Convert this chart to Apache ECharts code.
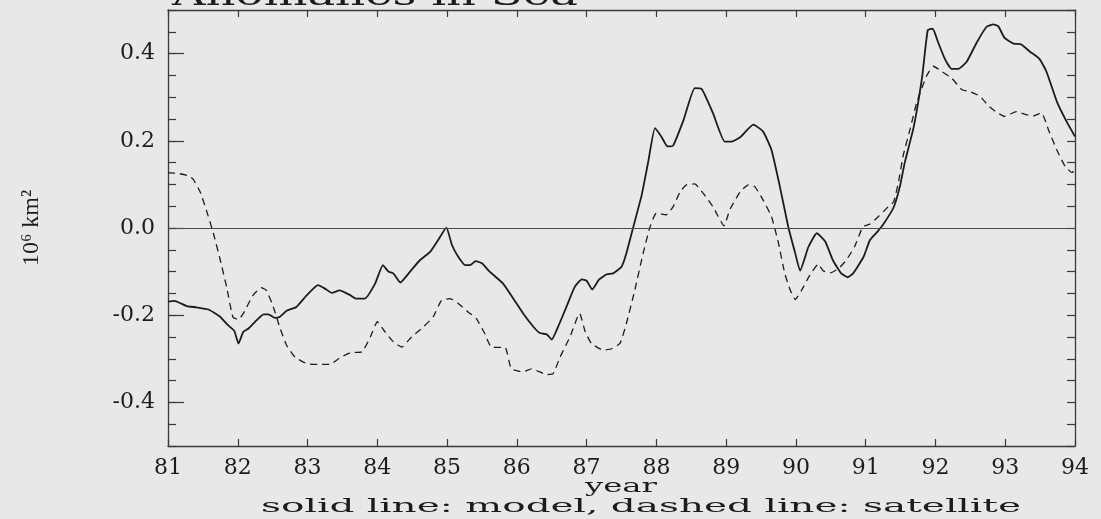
<!DOCTYPE html>
<html>
<head>
<meta charset="utf-8">
<script src="https://cdn.jsdelivr.net/npm/echarts@6/dist/echarts.min.js"></script>
<style>
html,body{margin:0;padding:0;background:#e8e8e8;}
#chart{width:1101px;height:519px;}
</style>
</head>
<body>
<div id="chart"></div>
<script>
// ---- data ----
const yearTicks = [81,82,83,84,85,86,87,88,89,90,91,92,93,94];
const yMajorLabels = [-0.4,-0.2,0.0,0.2,0.4];

const modelYears = [81.00,81.09,81.27,81.41,81.58,81.75,81.86,81.95,82.01,82.08,82.15,82.25,82.37,82.44,82.53,82.60,82.70,82.84,82.99,83.15,83.25,83.35,83.46,83.61,83.70,83.82,83.97,84.08,84.16,84.23,84.33,84.47,84.61,84.76,84.87,84.99,85.07,85.16,85.26,85.33,85.41,85.50,85.61,85.80,85.95,86.09,86.24,86.33,86.43,86.50,86.59,86.71,86.83,86.93,87.00,87.08,87.18,87.29,87.38,87.50,87.57,87.67,87.79,87.88,87.98,88.07,88.16,88.24,88.39,88.55,88.65,88.81,88.98,89.08,89.20,89.39,89.53,89.65,89.77,89.89,89.99,90.06,90.18,90.30,90.42,90.53,90.65,90.74,90.82,90.97,91.06,91.16,91.25,91.40,91.49,91.56,91.69,91.81,91.89,91.96,92.04,92.14,92.23,92.33,92.45,92.59,92.73,92.83,92.90,92.99,93.12,93.23,93.35,93.49,93.59,93.74,93.88,94.00];
const modelValues = [-0.169,-0.167,-0.179,-0.182,-0.187,-0.204,-0.223,-0.236,-0.265,-0.238,-0.231,-0.215,-0.198,-0.198,-0.206,-0.204,-0.190,-0.181,-0.154,-0.131,-0.139,-0.149,-0.143,-0.154,-0.162,-0.162,-0.127,-0.085,-0.100,-0.104,-0.125,-0.100,-0.074,-0.054,-0.028,0.001,-0.039,-0.066,-0.085,-0.085,-0.076,-0.081,-0.100,-0.127,-0.162,-0.196,-0.227,-0.241,-0.244,-0.256,-0.227,-0.181,-0.135,-0.118,-0.121,-0.141,-0.118,-0.106,-0.104,-0.089,-0.058,0.003,0.076,0.149,0.229,0.210,0.187,0.189,0.248,0.321,0.319,0.264,0.198,0.198,0.208,0.237,0.221,0.179,0.095,0.003,-0.058,-0.098,-0.043,-0.012,-0.031,-0.074,-0.104,-0.113,-0.104,-0.066,-0.028,-0.010,0.008,0.047,0.095,0.150,0.233,0.348,0.454,0.457,0.425,0.386,0.365,0.365,0.382,0.425,0.461,0.467,0.463,0.436,0.423,0.421,0.405,0.388,0.359,0.290,0.244,0.210];

const satYears = [81.00,81.15,81.29,81.36,81.46,81.55,81.65,81.75,81.84,81.93,82.01,82.08,82.22,82.34,82.41,82.51,82.60,82.70,82.82,82.99,83.15,83.32,83.46,83.61,83.78,83.90,84.00,84.09,84.23,84.35,84.49,84.66,84.80,84.92,85.04,85.16,85.28,85.42,85.54,85.64,85.83,85.92,86.09,86.21,86.43,86.52,86.62,86.76,86.90,86.98,87.07,87.24,87.36,87.48,87.57,87.69,87.81,87.91,88.00,88.14,88.24,88.34,88.43,88.55,88.67,88.81,88.97,89.05,89.20,89.32,89.41,89.53,89.65,89.75,89.84,89.92,89.99,90.08,90.20,90.32,90.39,90.49,90.61,90.72,90.84,90.96,91.06,91.18,91.30,91.40,91.47,91.54,91.64,91.73,91.87,91.97,92.09,92.23,92.38,92.49,92.64,92.76,92.88,92.99,93.16,93.30,93.40,93.52,93.62,93.74,93.86,93.96,94.00];
const satValues = [0.127,0.125,0.120,0.112,0.083,0.041,-0.012,-0.074,-0.135,-0.204,-0.210,-0.196,-0.154,-0.137,-0.143,-0.181,-0.227,-0.269,-0.296,-0.311,-0.313,-0.313,-0.298,-0.286,-0.284,-0.250,-0.215,-0.234,-0.261,-0.273,-0.250,-0.227,-0.204,-0.166,-0.162,-0.173,-0.190,-0.208,-0.242,-0.274,-0.274,-0.323,-0.330,-0.323,-0.336,-0.334,-0.296,-0.250,-0.196,-0.238,-0.265,-0.280,-0.277,-0.264,-0.219,-0.143,-0.058,0.003,0.034,0.030,0.049,0.083,0.099,0.101,0.080,0.049,0.005,0.041,0.083,0.099,0.095,0.064,0.026,-0.035,-0.104,-0.143,-0.164,-0.143,-0.108,-0.083,-0.098,-0.103,-0.093,-0.074,-0.043,0.003,0.009,0.026,0.045,0.060,0.105,0.168,0.229,0.287,0.348,0.371,0.359,0.344,0.317,0.313,0.302,0.280,0.265,0.256,0.267,0.260,0.257,0.264,0.225,0.179,0.141,0.127,0.137];

const titleText = 'Anomalies in Sea';
const xName = 'year';
const yName = '10\u2076 km\u00B2';
const noteText = 'solid line: model, dashed line: satellite';

// ---- chart ----
const ink = '#1c1c1c';
const axisInk = '#3a3a3a';
const chart = echarts.init(document.getElementById('chart'), null, {renderer: 'canvas'});

const pairs = (xs, ys) => xs.map((x, i) => [x, ys[i]]);
const axisLine = {show: true, onZero: false, lineStyle: {color: axisInk, width: 1.3}};

const option = {
  backgroundColor: '#e8e8e8',
  animation: false,
  grid: {left: 168, right: 26, top: 10, bottom: 73, show: false},
  xAxis: [
    {
      type: 'value', min: yearTicks[0], max: yearTicks[yearTicks.length - 1], interval: 1,
      position: 'bottom',
      axisLine: axisLine,
      axisTick: {show: true, inside: true, length: 7, lineStyle: {color: axisInk, width: 1.2}},
      axisLabel: {show: true, margin: 11, fontFamily: 'DejaVu Serif', fontSize: 22, color: ink,
        formatter: v => String(Math.round(v))},
      splitLine: {show: false}
    },
    {
      type: 'value', min: yearTicks[0], max: yearTicks[yearTicks.length - 1], interval: 1,
      position: 'top',
      axisLine: axisLine,
      axisTick: {show: true, inside: true, length: 7, lineStyle: {color: axisInk, width: 1.2}},
      axisLabel: {show: false},
      splitLine: {show: false}
    }
  ],
  yAxis: [
    {
      type: 'value', min: -0.5, max: 0.5, interval: 0.05, position: 'left',
      axisLine: axisLine,
      axisTick: {show: true, inside: true, length: 8, lineStyle: {color: axisInk, width: 1.2}},
      axisLabel: {show: false},
      splitLine: {show: false}
    },
    {
      type: 'value', min: -0.5, max: 0.5, interval: 0.1, position: 'left',
      axisLine: {show: false, onZero: false},
      axisTick: {show: true, inside: true, length: 16, customValues: yMajorLabels,
        lineStyle: {color: axisInk, width: 1.2}},
      axisLabel: {show: true, margin: 13, customValues: yMajorLabels,
        fontFamily: 'DejaVu Serif', fontSize: 22, color: ink,
        formatter: v => (Math.abs(v) < 1e-9 ? 0 : v).toFixed(1)},
      splitLine: {show: false},
      name: yName, nameLocation: 'middle', nameRotate: 90, nameGap: 124,
      nameTextStyle: {fontFamily: 'Liberation Serif', fontSize: 24, color: ink}
    },
    {
      type: 'value', min: -0.5, max: 0.5, interval: 0.05, position: 'right',
      axisLine: axisLine,
      axisTick: {show: true, inside: true, length: 8, lineStyle: {color: axisInk, width: 1.2}},
      axisLabel: {show: false},
      splitLine: {show: false}
    }
  ],
  series: [
    {
      name: 'model', type: 'line', xAxisIndex: 0, yAxisIndex: 0,
      data: pairs(modelYears, modelValues),
      symbol: 'none', smooth: 0.15,
      lineStyle: {color: ink, width: 1.8, type: 'solid'},
      markLine: {
        silent: true, symbol: 'none', animation: false,
        label: {show: false},
        lineStyle: {color: '#4a4a4a', width: 1, type: 'solid'},
        data: [{yAxis: 0}]
      },
      z: 3
    },
    {
      name: 'satellite', type: 'line', xAxisIndex: 0, yAxisIndex: 0,
      data: pairs(satYears, satValues),
      symbol: 'none', smooth: 0.15,
      lineStyle: {color: ink, width: 1.3, type: [7, 5]},
      z: 3
    }
  ],
  graphic: [
    {
      type: 'text', x: 172, y: 12, scaleX: 1.55, silent: true,
      style: {text: titleText, fontFamily: 'DejaVu Serif', fontSize: 30, fill: ink,
        textAlign: 'left', textVerticalAlign: 'bottom'}
    },
    {
      type: 'text', x: 621, y: 487, scaleX: 1.7, silent: true,
      style: {text: xName, fontFamily: 'DejaVu Serif', fontSize: 19, fill: ink,
        textAlign: 'center', textVerticalAlign: 'middle'}
    },
    {
      type: 'text', x: 641, y: 507, scaleX: 2.05, silent: true,
      style: {text: noteText, fontFamily: 'DejaVu Serif', fontSize: 19, fill: ink,
        textAlign: 'center', textVerticalAlign: 'middle'}
    }
  ]
};
chart.setOption(option);
</script>
</body>
</html>
